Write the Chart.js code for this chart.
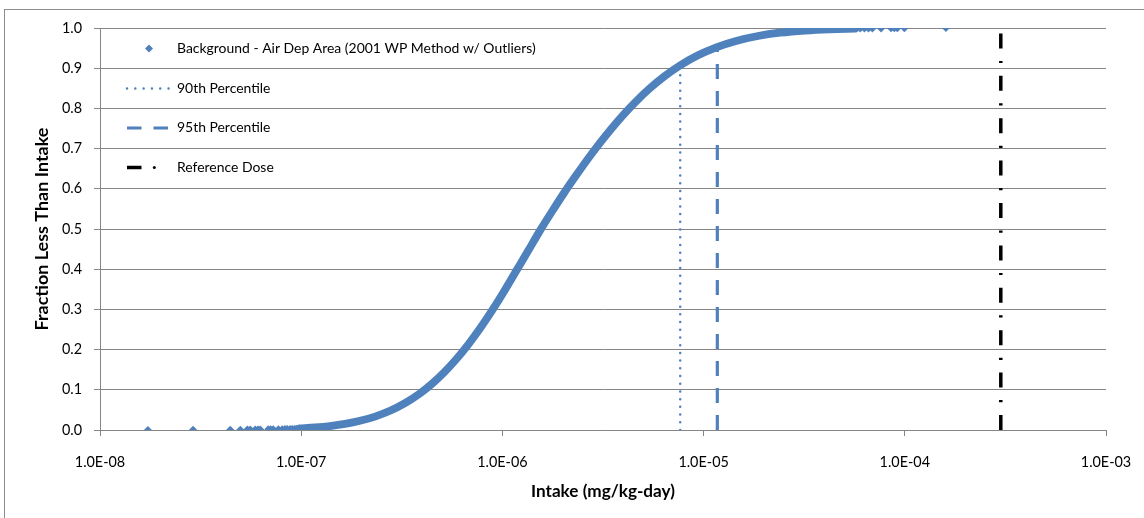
<!DOCTYPE html>
<html><head><meta charset="utf-8">
<script src="https://cdn.jsdelivr.net/npm/chart.js@4.4.0/dist/chart.umd.min.js"></script>
<style>html,body{margin:0;padding:0;background:#fff;}#wrap{width:1144px;height:518px;position:relative;overflow:hidden;}</style>
</head><body><div id="wrap"><canvas id="c" width="1144" height="518"></canvas></div>
<script>
// ---- data ----
const seriesName = 'Background - Air Dep Area (2001 WP Method w/ Outliers)';
const cdfIntake = [9.86e-8,1.171e-7,1.39e-7,1.651e-7,1.96e-7,2.327e-7,2.763e-7,3.28e-7,3.895e-7,4.469e-7,5.127e-7,5.88e-7,6.745e-7,7.737e-7,8.877e-7,1.0185e-6,1.1684e-6,1.34e-6,1.5377e-6,1.764e-6,2.0237e-6,2.3216e-6,2.6635e-6,3.0553e-6,3.5053e-6,4.0213e-6,4.6132e-6,5.4157e-6,6.4284e-6,7.6302e-6,9.38e-6,1.1655e-5,1.4655e-5,1.8638e-5,2.3977e-5,3.1918e-5,4.2478e-5,5.6549e-5];
const cdfFraction = [0.0038,0.0062,0.0098,0.0151,0.0228,0.0334,0.0478,0.0668,0.0912,0.1151,0.1431,0.1753,0.2119,0.2525,0.2969,0.3446,0.3949,0.445,0.496,0.5435,0.5896,0.6329,0.6747,0.7143,0.7515,0.786,0.8174,0.8503,0.8808,0.9067,0.932,0.9525,0.9684,0.9801,0.9882,0.9938,0.9969,0.9985];
const lowTailIntake = [1.73e-8,2.9e-8,4.44e-8,4.98e-8,5.4e-8,5.58e-8,5.91e-8,6.1e-8,6.26e-8,6.86e-8,7.05e-8,7.26e-8,7.7e-8,8.05e-8,8.3e-8,8.52e-8,8.8e-8,9.02e-8,9.25e-8,9.45e-8,9.7e-8];
const lowTailFraction = [0.0003,0.0005,0.0007,0.0009,0.001,0.0011,0.0013,0.0014,0.0015,0.0017,0.0018,0.0019,0.002,0.0021,0.0022,0.0023,0.0024,0.0025,0.0026,0.0028,0.003];
const highTailIntake = [5.73e-5,6.0e-5,6.3e-5,6.6e-5,6.9e-5,7.62e-5,8.54e-5,8.87e-5,9.18e-5,9.95e-5,1.6e-4];
const highTailFraction = [0.9985,0.9986,0.9987,0.9987,0.9988,0.999,0.9991,0.9992,0.9993,0.9995,0.9998];
const p90Intake = 7.65e-6, p90Fraction = 0.9;
const p95Intake = 1.17e-5, p95Fraction = 0.95;
const rfdIntake = 3.0e-4, rfdTop = 1.0;
const xTickValues = [1e-8,1e-7,1e-6,1e-5,1e-4,1e-3];
const yMin = 0, yMax = 1, yStep = 0.1;
const legendLabels = [seriesName, '90th Percentile', '95th Percentile', 'Reference Dose'];
const xTitle = 'Intake (mg/kg-day)';
const yTitle = 'Fraction Less Than Intake';

// ---- styling ----
const BLUE = '#4F81BD', GRID = '#868686', FAM = 'Lato, "Open Sans", sans-serif';
const mctx = document.createElement('canvas').getContext('2d');
function fit(text, weight, target){ mctx.font = weight+' 20px '+FAM; return 20*target/mctx.measureText(text).width; }
const legendSize = fit(seriesName,'normal',359);
const tickSize = fit('1.0E-03','normal',50.5);
const xTitleSize = fit(xTitle,'bold',144);
const yTitleSize = fit(yTitle,'bold',203);

function sci(v){ const e=Math.round(Math.log10(v)); const m=v/Math.pow(10,e); return m.toFixed(1)+'E'+(e<0?'-':'+')+String(Math.abs(e)).padStart(2,'0'); }

const band = cdfIntake.map((x,i)=>({x, y:cdfFraction[i]}));
const tails = lowTailIntake.map((x,i)=>({x,y:lowTailFraction[i]})).concat(highTailIntake.map((x,i)=>({x,y:highTailFraction[i]})));

const frame = { id:'frame', beforeDraw(c){ const g=c.ctx; g.save(); g.fillStyle='#fff'; g.fillRect(0,0,c.width,c.height); g.strokeStyle='#8c8c8c'; g.lineWidth=1; g.strokeRect(4.5,9.5,1400,800); g.restore(); } };

const legendPlug = { id:'legendPlug', afterDraw(c){
  const g=c.ctx; g.save();
  const ys=[48.5,88.5,128,167.5], tx=177;
  g.fillStyle=BLUE; g.beginPath(); g.moveTo(149,ys[0]-4); g.lineTo(153,ys[0]); g.lineTo(149,ys[0]+4); g.lineTo(145,ys[0]); g.closePath(); g.fill();
  g.strokeStyle=BLUE; g.lineWidth=2.5; g.lineCap='round'; g.setLineDash([0.01,8.3]);
  g.beginPath(); g.moveTo(127,ys[1]); g.lineTo(169,ys[1]); g.stroke();
  g.lineCap='butt'; g.lineWidth=3.2; g.setLineDash([]);
  g.beginPath(); g.moveTo(127,ys[2]); g.lineTo(141.5,ys[2]); g.moveTo(153.5,ys[2]); g.lineTo(168,ys[2]); g.stroke();
  g.strokeStyle='#000'; g.lineWidth=3.5; g.beginPath(); g.moveTo(127,ys[3]); g.lineTo(141.5,ys[3]); g.stroke();
  g.fillStyle='#000'; g.beginPath(); g.arc(154.3,ys[3],1.5,0,Math.PI*2); g.fill();
  g.fillStyle='#000'; g.font='normal '+legendSize+'px '+FAM; g.textBaseline='middle'; g.textAlign='left';
  legendLabels.forEach((t,i)=>g.fillText(t,tx,ys[i]));
  g.restore();
}};

new Chart(document.getElementById('c'), {
  type:'scatter',
  data:{ datasets:[
    { label:seriesName, data:band, showLine:true, borderColor:BLUE, borderWidth:7.8, pointRadius:0, cubicInterpolationMode:'monotone', borderCapStyle:'round', order:0 },
    { label:seriesName+' tails', data:tails, pointStyle:'rectRot', pointRadius:4, backgroundColor:BLUE, borderColor:BLUE, borderWidth:0, order:1 },
    { label:'90th Percentile', data:[{x:p90Intake,y:0},{x:p90Intake,y:p90Fraction}], showLine:true, borderColor:BLUE, borderWidth:2.5, borderDash:[0.01,7.7], borderCapStyle:'round', pointRadius:0, order:2 },
    { label:'95th Percentile', data:[{x:p95Intake,y:0},{x:p95Intake,y:p95Fraction}], showLine:true, borderColor:BLUE, borderWidth:3.2, borderDash:[15,12], borderCapStyle:'butt', pointRadius:0, order:3 },
    { label:'Reference Dose', data:[{x:rfdIntake,y:0},{x:rfdIntake,y:rfdTop}], showLine:true, borderColor:'#000', borderWidth:3.5, borderDash:[15,12.7,2.2,12.5], borderCapStyle:'butt', pointRadius:0, order:4 }
  ]},
  options:{
    responsive:false, animation:false, devicePixelRatio:1,
    layout:{ padding:{top:28,right:38,left:0,bottom:0} },
    plugins:{ legend:{display:false}, tooltip:{enabled:false} },
    scales:{
      x:{ type:'logarithmic', min:xTickValues[0], max:xTickValues[xTickValues.length-1],
          afterBuildTicks:s=>{ s.ticks = xTickValues.map(v=>({value:v})); },
          afterFit:s=>{ s.height=88; s.paddingLeft=0; s.paddingRight=0; },
          ticks:{ autoSkip:false, maxRotation:0, color:'#000', padding:18, font:{family:FAM,size:tickSize}, callback:(v)=>sci(v) },
          grid:{ drawOnChartArea:false, drawTicks:true, tickLength:6, color:GRID },
          border:{ color:GRID },
          title:{ display:true, text:xTitle, color:'#000', font:{family:FAM,size:xTitleSize,weight:'bold'}, padding:{top:0,bottom:16.6} } },
      y:{ min:yMin, max:yMax,
          afterFit:s=>{ s.width=100; },
          ticks:{ stepSize:yStep, color:'#000', padding:12, font:{family:FAM,size:tickSize}, callback:(v)=>Number(v).toFixed(1) },
          grid:{ color:GRID, tickLength:6, drawTicks:true },
          border:{ color:GRID },
          title:{ display:true, text:yTitle, color:'#000', font:{family:FAM,size:yTitleSize,weight:'bold'}, padding:{top:31.6,bottom:0} } }
    }
  },
  plugins:[frame, legendPlug]
});
</script></body></html>
